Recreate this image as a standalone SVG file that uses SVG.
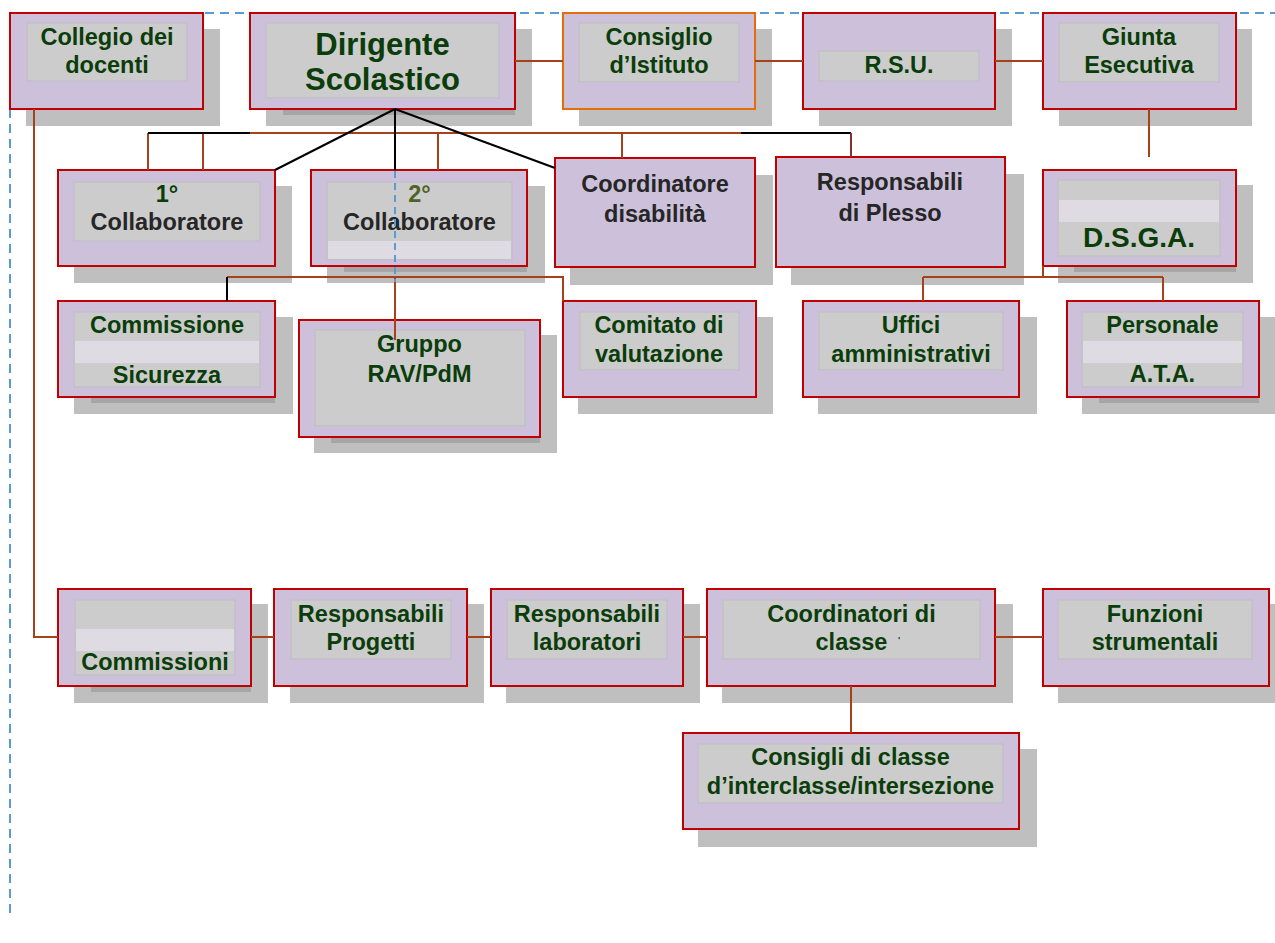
<svg xmlns="http://www.w3.org/2000/svg" width="1275" height="943" viewBox="0 0 1275 943">
<style>
.box{fill:#CCC0DA;stroke:#C00000;stroke-width:2}
.sh{fill:#BFBFBF}
.ds{fill:#A6A6A6}
.in{fill:#CCCCCC;stroke:#BDBDC4;stroke-width:1}
.band{fill:#DEDBE2}
.t{font-family:"Liberation Sans",Arial,sans-serif;font-weight:bold;font-size:23.5px;fill:#0B3D0B;text-anchor:middle}
.dk{fill:#262626}
.ol{fill:#4F6228}
.c{stroke:#A5421A;stroke-width:2;fill:none}
.k{stroke:#000;stroke-width:2;fill:none}
.dash{stroke:#5B9BD5;stroke-width:2;stroke-dasharray:9 6;fill:none}
</style>
<rect width="1275" height="943" fill="#fff"/>
<g id="frame">
<path class="dash" d="M10,913 V13 H1275"/>
</g>
<g id="collegio">
<rect class="sh" x="26" y="29" width="194" height="97"/>
<rect class="box" x="10" y="13" width="193" height="96"/>
<rect class="in" x="27" y="23" width="160" height="58"/>
<text class="t" x="107" y="45">Collegio dei</text>
<text class="t" x="107" y="73">docenti</text>
</g>
<g id="dirigente">
<rect class="sh" x="266" y="29" width="266" height="97"/>
<rect class="ds" x="283" y="109" width="232" height="6"/>
<rect class="box" x="250" y="13" width="265" height="96"/>
<rect class="in" x="266" y="23" width="233" height="75"/>
<text class="t" x="382.5" y="55" style="font-size:31px">Dirigente</text>
<text class="t" x="382.5" y="90" style="font-size:31px">Scolastico</text>
</g>
<g id="consiglio">
<rect class="sh" x="579" y="29" width="193" height="97"/>
<rect class="box" x="563" y="13" width="192" height="96" style="stroke:#E46C0A"/>
<rect class="in" x="579" y="23" width="160" height="59"/>
<text class="t" x="659" y="45">Consiglio</text>
<text class="t" x="659" y="73">d’Istituto</text>
</g>
<g id="rsu">
<rect class="sh" x="819" y="29" width="193" height="97"/>
<rect class="box" x="803" y="13" width="192" height="96"/>
<rect class="in" x="819" y="51" width="160" height="30"/>
<text class="t" x="899" y="73">R.S.U.</text>
</g>
<g id="giunta">
<rect class="sh" x="1059" y="29" width="193" height="97"/>
<rect class="box" x="1043" y="13" width="193" height="96"/>
<rect class="in" x="1059" y="23" width="160" height="59"/>
<text class="t" x="1139" y="45">Giunta</text>
<text class="t" x="1139" y="73">Esecutiva</text>
</g>
<g id="collab1">
<rect class="sh" x="74" y="186" width="218" height="97"/>
<rect class="box" x="58" y="170" width="217" height="96"/>
<rect class="in" x="74" y="182" width="186" height="59"/>
<text class="t" x="167" y="202">1°</text>
<text class="t dk" x="167" y="230">Collaboratore</text>
</g>
<g id="collab2">
<rect class="sh" x="327" y="186" width="218" height="97"/>
<rect class="ds" x="344" y="266" width="183" height="6"/>
<rect class="box" x="311" y="170" width="216" height="96"/>
<rect class="in" x="327" y="182" width="185" height="78"/>
<rect class="band" x="328" y="241" width="183" height="18"/>
<text class="t ol" x="419.5" y="202">2°</text>
<text class="t dk" x="419.5" y="230">Collaboratore</text>
</g>
<g id="coord-disabilita">
<rect class="sh" x="570" y="175" width="203" height="110"/>
<rect class="box" x="555" y="158" width="200" height="109"/>
<text class="t dk" x="655" y="192">Coordinatore</text>
<text class="t dk" x="655" y="222">disabilità</text>
</g>
<g id="resp-plesso">
<rect class="sh" x="791" y="174" width="233" height="111"/>
<rect class="box" x="776" y="157" width="229" height="110"/>
<text class="t dk" x="890" y="190">Responsabili</text>
<text class="t dk" x="890" y="221">di Plesso</text>
</g>
<g id="dsga">
<rect class="sh" x="1058" y="185" width="195" height="98"/>
<rect class="ds" x="1074" y="266" width="162" height="6"/>
<rect class="box" x="1043" y="170" width="193" height="96"/>
<rect class="in" x="1058" y="180" width="162" height="76"/>
<rect class="band" x="1059" y="200" width="160" height="22"/>
<text class="t" x="1139" y="247" style="font-size:28px">D.S.G.A.</text>
</g>
<g id="commissione-sicurezza">
<rect class="sh" x="74" y="317" width="219" height="97"/>
<rect class="ds" x="91" y="397" width="184" height="6"/>
<rect class="box" x="58" y="301" width="217" height="96"/>
<rect class="in" x="74" y="312" width="186" height="75"/>
<rect class="band" x="75" y="341" width="184" height="22"/>
<text class="t" x="167" y="333">Commissione</text>
<text class="t" x="167" y="383">Sicurezza</text>
</g>
<g id="gruppo-rav">
<rect class="sh" x="314" y="335" width="243" height="118"/>
<rect class="ds" x="331" y="437" width="209" height="6"/>
<rect class="box" x="299" y="320" width="241" height="117"/>
<rect class="in" x="315" y="330" width="210" height="96"/>
<text class="t" x="419.5" y="352">Gruppo</text>
<text class="t" x="419.5" y="382">RAV/PdM</text>
</g>
<g id="comitato">
<rect class="sh" x="578" y="317" width="195" height="97"/>
<rect class="box" x="563" y="301" width="193" height="96"/>
<rect class="in" x="580" y="312" width="159" height="58"/>
<text class="t" x="659" y="333">Comitato di</text>
<text class="t" x="659" y="362">valutazione</text>
</g>
<g id="uffici">
<rect class="sh" x="818" y="317" width="219" height="97"/>
<rect class="box" x="803" y="301" width="216" height="96"/>
<rect class="in" x="819" y="312" width="184" height="58"/>
<text class="t" x="911" y="333">Uffici</text>
<text class="t" x="911" y="362">amministrativi</text>
</g>
<g id="personale-ata">
<rect class="sh" x="1082" y="317" width="193" height="97"/>
<rect class="ds" x="1099" y="397" width="160" height="6"/>
<rect class="box" x="1067" y="301" width="192" height="96"/>
<rect class="in" x="1082" y="312" width="161" height="75"/>
<rect class="band" x="1083" y="341" width="159" height="22"/>
<text class="t" x="1162.5" y="333">Personale</text>
<text class="t" x="1162.5" y="382">A.T.A.</text>
</g>
<g id="commissioni">
<rect class="sh" x="74" y="604" width="194" height="99"/>
<rect class="ds" x="91" y="686" width="160" height="6"/>
<rect class="box" x="58" y="589" width="193" height="97"/>
<rect class="in" x="75" y="600" width="160" height="75"/>
<rect class="band" x="76" y="629" width="158" height="22"/>
<text class="t" x="155" y="670">Commissioni</text>
</g>
<g id="resp-progetti">
<rect class="sh" x="290" y="604" width="194" height="99"/>
<rect class="box" x="274" y="589" width="193" height="97"/>
<rect class="in" x="291" y="600" width="160" height="59"/>
<text class="t" x="371" y="622">Responsabili</text>
<text class="t" x="371" y="650">Progetti</text>
</g>
<g id="resp-laboratori">
<rect class="sh" x="506" y="604" width="194" height="99"/>
<rect class="box" x="491" y="589" width="192" height="97"/>
<rect class="in" x="507" y="600" width="160" height="59"/>
<text class="t" x="587" y="622">Responsabili</text>
<text class="t" x="587" y="650">laboratori</text>
</g>
<g id="coordinatori-classe">
<rect class="sh" x="722" y="604" width="291" height="99"/>
<rect class="box" x="707" y="589" width="288" height="97"/>
<rect class="in" x="723" y="600" width="257" height="59"/>
<text class="t" x="851.5" y="622">Coordinatori di</text>
<text class="t" x="851.5" y="650">classe</text>
<text class="t" x="899" y="643" style="font-size:9px">'</text>
</g>
<g id="funzioni">
<rect class="sh" x="1058" y="604" width="217" height="99"/>
<rect class="box" x="1043" y="589" width="226" height="97"/>
<rect class="in" x="1058" y="600" width="194" height="59"/>
<text class="t" x="1155" y="622">Funzioni</text>
<text class="t" x="1155" y="650">strumentali</text>
</g>
<g id="consigli-classe">
<rect class="sh" x="698" y="749" width="339" height="98"/>
<rect class="box" x="683" y="733" width="336" height="96"/>
<rect class="in" x="698" y="744" width="305" height="59"/>
<text class="t" x="850.5" y="765">Consigli di classe</text>
<text class="t" x="850.5" y="794">d’interclasse/intersezione</text>
</g>
<g id="connectors">
<path class="c" d="M515,61 H563 M755,61 H803 M995,61 H1043"/>
<path class="c" d="M1149,109 V157"/>
<path class="c" d="M250,133 H741 M148,133 V170 M203,133 V170 M438,133 V170 M622,133 V158"/>
<path class="k" d="M148,133 H250 M741,133 H851"/>
<path d="M851,133 V157" style="stroke:#8B2E2E;stroke-width:2"/>
<path class="k" d="M395,109 L275,170 M395,109 V170 M395,109 L555,168"/>
<path class="c" d="M227,277 H563 V301 M395,277 V340"/>
<path class="k" d="M227,277 V301"/>
<path class="c" d="M1043,266 V277 M923,277 H1163 M923,277 V301 M1163,277 V301"/>
<path class="c" d="M34,109 V637 H58 M251,637 H274 M467,637 H491 M683,637 H707 M995,637 H1043 M851,686 V733"/>
<path class="dash" d="M395,171 V282" style="stroke-dasharray:7 5"/>
</g>
</svg>
